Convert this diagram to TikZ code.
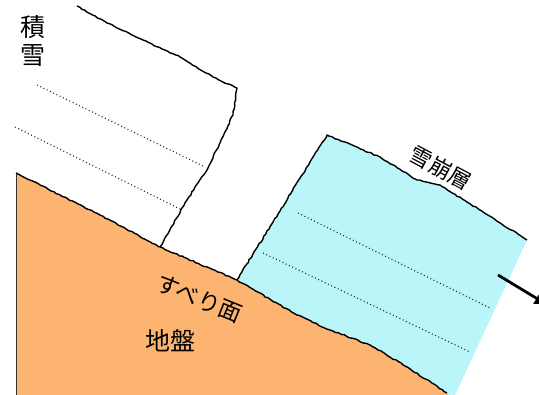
\documentclass[tikz,border=0pt]{standalone}
\usepackage{fontspec}
\newfontfamily\jp{Noto Sans CJK JP}
\usetikzlibrary{decorations.pathmorphing,arrows.meta}
\definecolor{ground}{RGB}{252,180,112}
\definecolor{slab}{RGB}{186,245,250}
\tikzset{
  edge/.style={line width=1.4pt, black, line join=round,
    decorate, decoration={random steps, segment length=3pt, amplitude=0.6pt}},
  layer/.style={line width=1.1pt, black!85, dash pattern=on 1pt off 2.6pt},
  lbl/.style={font=\jp, text=black, inner sep=0pt},
}
\begin{document}
\begin{tikzpicture}[x=1pt,y=-1pt]
\pgfmathsetseed{11}
\useasboundingbox (0,0) rectangle (539,395);
\fill[white] (0,0) rectangle (539,395);

% ground
\fill[ground] (16,173) -- (100,215) -- (160,247) -- (237,280) -- (297,315)
  -- (330,330) -- (370,345) -- (407,367) -- (449,395) -- (16,395) -- cycle;
% sliding slab
\fill[slab] (327,135) -- (380,157) -- (417,180) -- (440,185) -- (480,210)
  -- (527,240) -- (455,395) -- (449,395) -- (407,367) -- (370,345)
  -- (330,330) -- (297,315) -- (237,280) -- cycle;

% layering inside the snow cover
\draw[layer] (37,85) -- (205,167);
\draw[layer] (15,127) -- (182,210);
% layering inside the slab
\draw[layer] (298,213) -- (490,308);
\draw[layer] (263,253) -- (470,352);

% outlines
\draw[black!80, line width=0.9pt] (16,173) -- (16,395);
\draw[edge] (16,173) -- (100,215) -- (160,247) -- (237,280) -- (297,315)
  -- (330,330) -- (370,345) -- (407,367) -- (447,393);
\draw[edge] (77,6) -- (107,23) -- (143,40) -- (180,57) -- (213,77) -- (237,88)
  -- (233,115) -- (207,170) -- (187,200) -- (160,247);
\draw[edge] (237,280) -- (327,135) -- (380,157) -- (417,180) -- (440,185)
  -- (480,210) -- (527,240);

% direction of sliding
\coordinate (a0) at (498,275);
\coordinate (a1) at (546,304);
\draw[line width=2.8pt, -{Triangle[length=11pt,width=12pt]}] (a0) -- (a1);

% labels
\node[lbl, font=\jp\fontsize{25}{28}\selectfont, align=center] (sekisetsu) at (33,41) {積\\雪};
\node[lbl, font=\jp\fontsize{22}{22}\selectfont, rotate=-28] (nadare) at (441,168) {雪崩層};
\node[lbl, font=\jp\fontsize{23}{23}\selectfont, rotate=-22] (suberi) at (199,299) {すべり面};
\node[lbl, font=\jp\fontsize{25}{25}\selectfont] (jiban) at (170,341) {地盤};
\end{tikzpicture}
\end{document}
